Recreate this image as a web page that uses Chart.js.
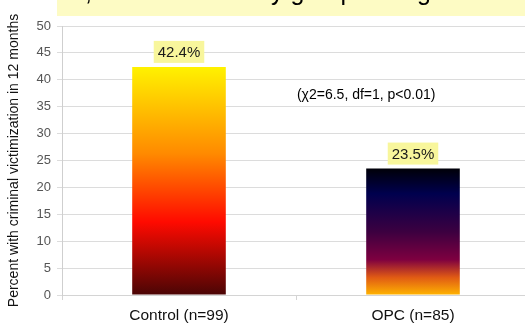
<!DOCTYPE html>
<html>
<head>
<meta charset="utf-8">
<script src="https://cdn.jsdelivr.net/npm/chart.js@4/dist/chart.umd.min.js"></script>
<style>
  html, body { margin: 0; padding: 0; background: #ffffff; overflow: hidden; }
  #wrap { position: relative; width: 532px; height: 326px; }
</style>
</head>
<body>
<div id="wrap"><canvas id="c" width="532" height="326"></canvas></div>
<script>
// Groups and the share of each with criminal victimization over 12 months
const categories = ['Control (n=99)', 'OPC (n=85)'];
const percentVictimized = [42.4, 23.5];
const valueLabels = ['42.4%', '23.5%'];
const yTicks = [0, 5, 10, 15, 20, 25, 30, 35, 40, 45, 50];
const statText = '(\u03c72=6.5, df=1, p<0.01)';
const headlineLead = 'Overall,';
const headlineRest = 'victimization by group during follow-up';

const FONT = '"Liberation Sans", Arial, sans-serif';

// Colour ramps running top of bar -> baseline
const ramps = [
  [[0, '#fff200'], [0.38, '#ff8a00'], [0.68, '#ff0a00'], [1, '#4a0505']],
  [[0, '#000008'], [0.2, '#00004e'], [0.5, '#3c0040'], [0.72, '#7e0040'], [0.86, '#e05a14'], [1, '#ffb400']]
];

function barGradient(ctx) {
  const chart = ctx.chart;
  if (!chart.chartArea) return '#ff8a00';
  const y = chart.scales.y;
  const top = y.getPixelForValue(percentVictimized[ctx.dataIndex]);
  const bottom = y.getPixelForValue(0);
  const g = chart.ctx.createLinearGradient(0, top, 0, bottom);
  ramps[ctx.dataIndex].forEach(([p, c]) => g.addColorStop(p, c));
  return g;
}

// Band at the very top with the heading running off the edge
const headerBand = {
  id: 'headerBand',
  beforeDraw(chart) {
    const c = chart.ctx;
    c.save();
    c.fillStyle = '#fdfbc4';
    c.fillRect(57, 0, chart.width - 57, 16);
    c.beginPath();
    c.rect(57, 0, chart.width - 57, 16);
    c.clip();
    c.fillStyle = '#000000';
    c.font = '25px ' + FONT;
    c.textBaseline = 'alphabetic';
    c.textAlign = 'left';
    // lead word ends with its comma near x=90
    const leadW = c.measureText(headlineLead).width;
    c.fillText(headlineLead, 92 - leadW, 0);
    // "y" of "by" begins at x=271
    const pre = c.measureText('victimization b').width;
    c.fillText(headlineRest, 271 - pre, 0);
    c.restore();
  }
};

// Value boxes above each bar and the test statistic
const barLabels = {
  id: 'barLabels',
  afterDatasetsDraw(chart) {
    const c = chart.ctx;
    const meta = chart.getDatasetMeta(0);
    c.save();
    c.font = '15px ' + FONT;
    c.textAlign = 'center';
    c.textBaseline = 'middle';
    meta.data.forEach((bar, i) => {
      const txt = valueLabels[i];
      const w = c.measureText(txt).width + 8;
      const h = 22;
      const cy = bar.y - 15;
      c.fillStyle = '#f8f69c';
      c.fillRect(bar.x - w / 2, cy - h / 2, w, h);
      c.fillStyle = '#1a1a1a';
      c.fillText(txt, bar.x, cy + 1);
    });
    const x = chart.scales.x.getPixelForValue(0.8);
    const y = chart.scales.y.getPixelForValue(37.1);
    c.font = '14px ' + FONT;
    c.fillStyle = '#000000';
    c.fillText(statText, x, y);
    c.restore();
  }
};

new Chart(document.getElementById('c'), {
  type: 'bar',
  data: {
    labels: categories,
    datasets: [{
      data: percentVictimized,
      backgroundColor: barGradient,
      borderWidth: 0,
      barPercentage: 0.4,
      categoryPercentage: 1
    }]
  },
  options: {
    responsive: false,
    animation: false,
    devicePixelRatio: 1,
    layout: { padding: { top: 26, right: 2, left: 0, bottom: 0 } },
    plugins: {
      legend: { display: false },
      tooltip: { enabled: false },
      title: { display: false }
    },
    scales: {
      x: {
        grid: { drawOnChartArea: false, color: '#d4d4d4', tickLength: 5 },
        border: { color: '#d4d4d4' },
        ticks: { color: '#111111', font: { family: FONT, size: 15.5 }, padding: 6 },
        afterFit(s) { s.height = 31; }
      },
      y: {
        min: 0,
        max: 50,
        afterBuildTicks(s) { s.ticks = yTicks.map(v => ({ value: v })); },
        grid: { color: '#dcdcdc', tickLength: 5, lineWidth: 1 },
        border: { color: '#cfcfcf' },
        ticks: { color: '#555555', font: { family: FONT, size: 13 }, padding: 6 },
        title: {
          display: true,
          text: 'Percent with criminal victimization in 12 months',
          color: '#111111',
          font: { family: FONT, size: 14 },
          padding: { top: 6, bottom: 0 }
        },
        afterFit(s) { s.width = 62; }
      }
    }
  },
  plugins: [headerBand, barLabels]
});
</script>
</body>
</html>
